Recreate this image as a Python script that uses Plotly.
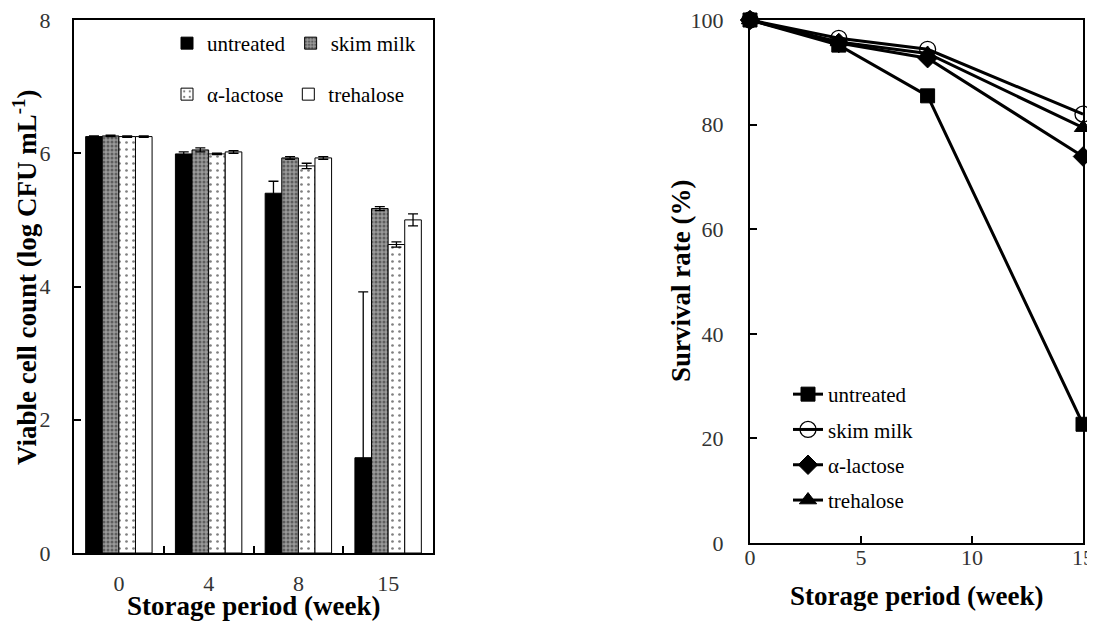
import plotly.graph_objects as go

# ---- data ----
weeks_cat = ["0", "4", "8", "15"]
weeks_num = [0, 4, 8, 15]

count_untreated = [6.25, 5.99, 5.40, 1.43]
count_skim = [6.26, 6.05, 5.93, 5.17]
count_lactose = [6.25, 5.99, 5.81, 4.63]
count_trehalose = [6.25, 6.02, 5.93, 5.00]

err_untreated = [0.01, 0.03, 0.18, 2.49]
err_skim = [0.01, 0.03, 0.02, 0.03]
err_lactose = [0.01, 0.01, 0.04, 0.04]
err_trehalose = [0.01, 0.02, 0.02, 0.09]

surv_untreated = [100, 95.2, 85.5, 22.7]
surv_skim = [100, 96.5, 94.4, 82.0]
surv_lactose = [100, 95.6, 92.7, 73.9]
surv_trehalose = [100, 95.8, 93.6, 79.4]

names = ["untreated", "skim milk", "α-lactose", "trehalose"]

FONT = "Liberation Serif, 'Times New Roman', serif"

# page body has an 8px margin; figure is sized so that it ends at the window edge
OFF = 8
W, H = 1095 - OFF, 622 - OFF


def px(xs):
    return (xs - OFF) / W


def py(ys):
    return 1 - (ys - OFF) / H


fig = go.Figure()

bar_styles = [
    dict(color="black", pattern=None),
    dict(color="#8c8c8c", pattern=dict(shape=".", fgcolor="#222222", bgcolor="#9a9a9a", size=4, solidity=0.45)),
    dict(color="white", pattern=dict(shape=".", fgcolor="#000000", bgcolor="white", size=7, solidity=0.12)),
    dict(color="white", pattern=None),
]
counts = [count_untreated, count_skim, count_lactose, count_trehalose]
errs = [err_untreated, err_skim, err_lactose, err_trehalose]
legend_of = ["legend", "legend", "legend2", "legend2"]

for name, vals, er, st, lg in zip(names, counts, errs, bar_styles, legend_of):
    marker = dict(color=st["color"], line=dict(color="black", width=1))
    if st["pattern"] is not None:
        marker["pattern"] = st["pattern"]
    fig.add_trace(go.Bar(
        x=weeks_cat, y=vals, name=name, marker=marker,
        error_y=dict(type="data", array=er, color="black", thickness=1.3, width=5),
        xaxis="x", yaxis="y", legend=lg,
    ))

line_styles = [
    dict(symbol="square", size=14, color="black", line=dict(color="black", width=1)),
    dict(symbol="circle-open", size=16, color="black", line=dict(color="black", width=1.3)),
    dict(symbol="diamond", size=15, color="black", line=dict(color="black", width=1)),
    dict(symbol="triangle-up", size=15, color="black", line=dict(color="black", width=1)),
]
survs = [surv_untreated, surv_skim, surv_lactose, surv_trehalose]
for i, (name, vals, mk) in enumerate(zip(names, survs, line_styles)):
    fig.add_trace(go.Scatter(
        x=weeks_num, y=vals, name=name, mode="lines+markers",
        line=dict(color="black", width=3), marker=mk,
        xaxis="x2", yaxis="y2", legend="legend3", legendgroup="g%d" % i,
        cliponaxis=False,
    ))

tickfont = dict(family=FONT, size=22, color="#333")
titlefont = dict(family=FONT, size=27, color="black", weight="bold")
legfont = dict(family=FONT, size=21, color="black")

common = dict(showline=True, linecolor="black", linewidth=2, mirror=True,
              ticks="inside", ticklen=7, tickcolor="black", tickwidth=2,
              tickfont=tickfont, showgrid=False, automargin=False,
              ticklabeloverflow="allow")

fig.update_layout(
    width=W, height=H,
    margin=dict(l=0, r=0, t=0, b=0),
    paper_bgcolor="white", plot_bgcolor="white",
    barmode="group", bargap=0.26, bargroupgap=0,
    showlegend=True,
    xaxis=dict(
        domain=[px(74), px(433)], anchor="y", type="category",
        categoryorder="array", categoryarray=weeks_cat,
        tickson="boundaries", ticklabelstandoff=10,
        **common,
    ),
    yaxis=dict(
        domain=[py(553), py(20)], anchor="x",
        range=[0, 8], tickvals=[0, 2, 4, 6, 8], zeroline=False,
        ticklabelstandoff=17,
        **common,
    ),
    xaxis2=dict(
        domain=[px(750), px(1083)], anchor="y2",
        range=[0, 15], tickvals=[0, 5, 10, 15], zeroline=False,
        ticklabelstandoff=-6,
        **common,
    ),
    yaxis2=dict(
        domain=[py(543), py(20)], anchor="x2",
        range=[0, 100], tickvals=[0, 20, 40, 60, 80, 100], zeroline=False,
        ticklabelstandoff=20,
        **common,
    ),
    legend=dict(
        orientation="h", x=px(167), y=py(23), xanchor="left", yanchor="top",
        font=legfont, bgcolor="rgba(0,0,0,0)", itemwidth=30, traceorder="normal",
    ),
    legend2=dict(
        orientation="h", x=px(167), y=py(74), xanchor="left", yanchor="top",
        font=legfont, bgcolor="rgba(0,0,0,0)", itemwidth=30, traceorder="normal",
    ),
    legend3=dict(
        orientation="v", x=px(788), y=py(374), xanchor="left", yanchor="top",
        font=legfont, bgcolor="rgba(0,0,0,0)", itemwidth=30, tracegroupgap=5,
        traceorder="grouped",
    ),
)

axis_titles = [
    dict(text="Storage period (week)", x=px(253.5), y=py(606), textangle=0),
    dict(text="Storage period (week)", x=px(916.5), y=py(596), textangle=0),
    dict(text="Viable cell count (log CFU mL<sup>-1</sup>)", x=px(25), y=py(278), textangle=-90),
    dict(text="Survival rate (%)", x=px(681), y=py(281), textangle=-90),
]
for t in axis_titles:
    fig.add_annotation(
        text=t["text"], x=t["x"], y=t["y"], xref="paper", yref="paper",
        xanchor="center", yanchor="middle", textangle=t["textangle"],
        showarrow=False, font=titlefont,
    )

fig.write_html("out.html")
